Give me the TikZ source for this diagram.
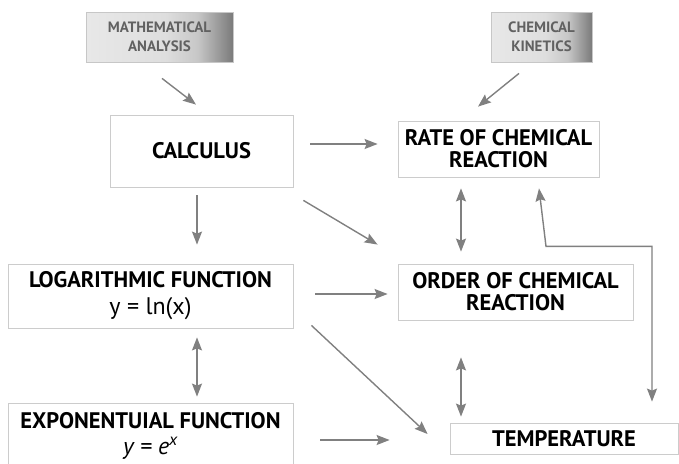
\documentclass[tikz,border=0pt]{standalone}
\usepackage{fontspec}
\setmainfont{PT Sans}
\usetikzlibrary{arrows.meta,calc}
\pgfdeclarehorizontalshading{hdrshade}{100bp}{color(0bp)=(black!9); color(25bp)=(black!9); color(52bp)=(black!13); color(63bp)=(black!22); color(75bp)=(black!52); color(100bp)=(black!52)}

\begin{document}
\begin{tikzpicture}[x=1pt,y=-1pt,line width=1.4pt,
  box/.style={draw=black!20,line width=0.8pt,fill=white,align=center,inner sep=0pt,
    font=\fontsize{22.5}{22}\selectfont\bfseries},
  hdr/.style={draw=black!22,line width=0.8pt,shading=hdrshade,align=center,inner sep=0pt,
    text=black!62,font=\fontsize{15}{19}\selectfont\bfseries},
  arr/.style={black!50,-{Stealth[length=13pt,width=10pt,inset=2pt]}},
  darr/.style={black!50,{Stealth[length=13pt,width=10pt,inset=2pt]}-{Stealth[length=13pt,width=10pt,inset=2pt]}}]
  \useasboundingbox (0,0) rectangle (679,463);
  % source boxes
  \node[hdr,minimum width=147,minimum height=50] (ma) at (159.5,37) {MATHEMATICAL\\ANALYSIS};
  \node[hdr,minimum width=101,minimum height=50] (ck) at (541.5,37) {CHEMICAL\\KINETICS};
  % main boxes
  \node[box,minimum width=183,minimum height=72] (calc) at (201.5,151) {CALCULUS};
  \node[box,minimum width=201,minimum height=56] (rate) at (498.5,149) {RATE OF CHEMICAL\\REACTION};
  \node[box,minimum width=285,minimum height=64] (log) at (150.5,296)
       {LOGARITHMIC FUNCTION\\[5pt]{\fontsize{24}{24}\selectfont\mdseries y = ln(x)}};
  \node[box,minimum width=235,minimum height=56] (order) at (515.5,292) {ORDER OF CHEMICAL\\REACTION};
  \node[box,minimum width=285,minimum height=66] (exp) at (150.5,436)
       {EXPONENTUIAL FUNCTION\\[4pt]{\fontsize{24}{24}\selectfont\mdseries\itshape y = e\textsuperscript{x}}};
  \node[box,minimum width=228,minimum height=31] (temp) at (564,438.5) {TEMPERATURE};
  % connectors
  \draw[arr] ($(ma.south)+(2.5,16)$) -- ($(calc.north)+(-5.5,-10)$);
  \draw[arr] ($(ck.south)+(-22.5,11)$) -- ($(rate.north)+(-20.5,-14)$);
  \draw[arr] ($(calc.east)+(17,-7)$) -- ($(rate.west)+(-20,-5)$);
  \draw[arr] ($(calc.south east)+(10,13)$) -- ($(order.north west)+(-20,-19)$);
  \draw[arr] ($(calc.south)+(-4.5,8)$) -- ($(log.north)+(46.5,-19)$);
  \draw[darr] ($(rate.south)+(-37.5,11)$) -- ($(order.north)+(-54.5,-12)$);
  \draw[arr] ($(log.east)+(22,-2)$) -- ($(order.west)+(-10,2)$);
  \draw[arr] ($(log.south east)+(18,-3)$) -- ($(temp.west)+(-22,-4.5)$);
  \draw[darr] ($(log.south)+(46.5,9)$) -- ($(exp.north)+(46.5,-6)$);
  \draw[darr] ($(order.south)+(-54.5,37)$) -- ($(temp.north)+(-103,-6)$);
  \draw[arr] ($(exp.east)+(27,4)$) -- ($(temp.west)+(-60,1.5)$);
  \coordinate (bend) at ($(rate.south)+(47.5,69)$);
  \draw[darr] ($(rate.south)+(40.5,11)$) -- (bend) -| ($(temp.north)+(88,-21)$);
\end{tikzpicture}
\end{document}
